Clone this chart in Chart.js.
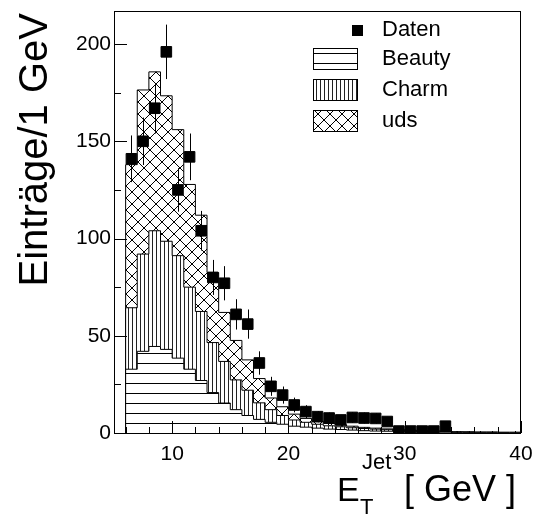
<!DOCTYPE html>
<html>
<head>
<meta charset="utf-8">
<script src="https://cdn.jsdelivr.net/npm/chart.js@4.4.0/dist/chart.umd.min.js"></script>
<style>
html, body { margin: 0; padding: 0; background: #fff; }
</style>
</head>
<body>
<canvas id="chart" width="536" height="516"></canvas>
<script>
// 1 GeV bins, lower edges 6 ... 39
const binLow = [6, 7, 8, 9, 10, 11, 12, 13, 14, 15, 16, 17, 18, 19, 20, 21, 22, 23, 24, 25, 26, 27, 28, 29, 30, 31, 32, 33, 34, 35, 36, 37, 38, 39]
const binCenters = [6.5, 7.5, 8.5, 9.5, 10.5, 11.5, 12.5, 13.5, 14.5, 15.5, 16.5, 17.5, 18.5, 19.5, 20.5, 21.5, 22.5, 23.5, 24.5, 25.5, 26.5, 27.5, 28.5, 29.5, 30.5, 31.5, 32.5, 33.5, 34.5, 35.5, 36.5, 37.5, 38.5, 39.5]

// MC contributions per bin
const beauty = [32.8, 42, 44.5, 43, 38.5, 32.8, 27, 20.8, 15.4, 12, 9, 7, 5.5, 4.5, 3.5, 3, 2.5, 2, 1.8, 1.5, 1.2, 1, 0.9, 0.8, 0.6, 0.5, 0.5, 0.4, 0.3, 0.3, 0.2, 0.2, 0.2, 0.1]
const charm = [31.6, 50, 59.5, 55.6, 52.7, 42.2, 35.5, 25.7, 21.4, 15.3, 13, 8.5, 6.5, 4.5, 3.2, 2.5, 2, 1.7, 1.4, 1.2, 1.1, 1, 0.8, 0.6, 0.6, 0.5, 0.4, 0.4, 0.3, 0.2, 0.2, 0.2, 0.1, 0.2]
const uds = [73.6, 84.4, 81.7, 74.8, 64.8, 52.8, 49.5, 36, 25.2, 20.3, 15.6, 12.5, 6, 4.5, 3, 2, 1.5, 1.2, 1, 0.8, 0.6, 0.5, 0.4, 0.3, 0.3, 0.2, 0.2, 0.2, 0.1, 0.1, 0.1, 0.1, 0.1, 0.1]

// Data and their errors
const daten = [141, 150, 167, 196, 125, 142, 104, 80, 77, 61, 56, 36, 24, 19.5, 14.4, 11, 8.4, 7.7, 6.7, 8, 7.7, 7.5, 5.9, 1, 1, 1, 1, 3.5, 0, 0, 0, 0, 0, 0]
const datenFehler = [12, 12.2, 13, 14, 11.2, 12, 10.2, 9, 8.8, 7.8, 7.5, 6, 4.9, 4.4, 3.8, 3.3, 2.9, 2.8, 2.6, 2.8, 2.8, 2.7, 2.4, 1, 1, 1, 1, 1.9, 1, 1, 1, 1, 0, 1]

// Axis ticks
const xTicks = [10, 20, 30, 40]
const xMinorTicks = [6, 8, 12, 14, 16, 18, 22, 24, 26, 28, 32, 34, 36, 38]
const yTicks = [0, 50, 100, 150, 200]
const yMinorTicks = [25, 75, 125, 175]

const fontFam = '"Liberation Sans", Arial, Helvetica, sans-serif'
const canvas = document.getElementById('chart')
const ctx = canvas.getContext('2d')

// hatch patterns like ROOT fill styles
function makePattern(kind) {
    const tile = document.createElement('canvas')
    const g = tile.getContext('2d')
    if (kind == 'h') {
        tile.width = 10; tile.height = 10
        g.fillStyle = '#fff'; g.fillRect(0, 0, 10, 10)
        g.fillStyle = '#000'; g.fillRect(0, 3, 10, 1)
    } else if (kind == 'v') {
        tile.width = 4; tile.height = 4
        g.fillStyle = '#fff'; g.fillRect(0, 0, 4, 4)
        g.fillStyle = '#222'; g.fillRect(0, 0, 1, 4)
    } else {
        tile.width = 12; tile.height = 12
        g.fillStyle = '#fff'; g.fillRect(0, 0, 12, 12)
        g.strokeStyle = '#000'; g.lineWidth = 1
        g.beginPath()
        g.moveTo(-1, -1); g.lineTo(13, 13)
        g.moveTo(-1, 13); g.lineTo(13, -1)
        g.stroke()
    }
    return ctx.createPattern(tile, 'repeat')
}
const patBeauty = makePattern('h')
const patCharm = makePattern('v')
const patUds = makePattern('x')

// cumulative step outline for a stacked layer
function stepPoints(layers) {
    let pts = [{x: binLow[0], y: 0}]
    binLow.forEach((lo, i) => {
        let sum = 0
        layers.forEach(l => sum += l[i])
        pts.push({x: lo, y: sum})
    })
    pts.push({x: binLow[binLow.length - 1] + 1, y: 0})
    return pts
}

const rootStyle = {
    id: 'rootStyle',
    afterDatasetsDraw(chart) {
        const c = chart.ctx
        const a = chart.chartArea
        const x = chart.scales.x
        const y = chart.scales.y
        c.save()
        c.strokeStyle = '#000'
        c.lineWidth = 1
        // error bars
        c.save()
        c.beginPath()
        c.rect(a.left, a.top, a.right - a.left, a.bottom - a.top)
        c.clip()
        c.beginPath()
        binCenters.forEach((xc, i) => {
            if (!datenFehler[i]) return
            const px = Math.round(x.getPixelForValue(xc)) + 0.5
            c.moveTo(px, y.getPixelForValue(Math.max(0, daten[i] - datenFehler[i])))
            c.lineTo(px, y.getPixelForValue(daten[i] + datenFehler[i]))
        })
        c.stroke()
        c.restore()
        // ticks pointing inwards
        c.beginPath()
        yTicks.forEach(v => {
            const py = Math.round(y.getPixelForValue(v)) + 0.5
            c.moveTo(a.left, py); c.lineTo(a.left + 13, py)
        })
        yMinorTicks.forEach(v => {
            const py = Math.round(y.getPixelForValue(v)) + 0.5
            c.moveTo(a.left, py); c.lineTo(a.left + 7, py)
        })
        xTicks.forEach(v => {
            const px = Math.round(x.getPixelForValue(v)) + 0.5
            c.moveTo(px, a.bottom); c.lineTo(px, a.bottom - 12)
        })
        xMinorTicks.forEach(v => {
            const px = Math.round(x.getPixelForValue(v)) + 0.5
            c.moveTo(px, a.bottom); c.lineTo(px, a.bottom - 6)
        })
        c.stroke()
        // frame
        c.strokeRect(a.left + 0.5, a.top + 0.5, a.right - a.left - 1, a.bottom - a.top)
        c.restore()
    },
    afterDraw(chart) {
        const c = chart.ctx
        c.save()
        c.fillStyle = '#000'
        // axis titles
        c.textBaseline = 'alphabetic'
        c.font = '34px ' + fontFam
        c.fillText('E', 337, 501)
        c.font = '22px ' + fontFam
        c.fillText('T', 360, 514)
        c.fillText('Jet', 362, 469)
        c.font = '36px ' + fontFam
        c.fillText('[ GeV ]', 404, 501)
        c.save()
        c.translate(47, 13)
        c.rotate(-Math.PI / 2)
        c.textAlign = 'right'
        c.font = '40px ' + fontFam
        c.fillText('Einträge/1 GeV', 0, 0)
        c.restore()
        // legend
        c.textBaseline = 'middle'
        c.textAlign = 'left'
        c.font = '22px ' + fontFam
        c.fillRect(352, 25, 11, 11)
        c.fillText('Daten', 382, 30)
        const boxes = [[patBeauty, 'Beauty', 48], [patCharm, 'Charm', 79], [patUds, 'uds', 110]]
        c.strokeStyle = '#000'
        c.lineWidth = 1
        boxes.forEach(b => {
            c.fillStyle = b[0]
            c.fillRect(313, b[2], 44, 22)
            c.strokeRect(313.5, b[2] + 0.5, 44, 21)
            c.fillStyle = '#000'
            c.fillText(b[1], 382, b[2] + 11)
        })
        c.restore()
    }
}

const chart = new Chart(ctx, {
    type: 'line',
    data: {
        datasets: [
            {
                type: 'scatter',
                label: 'Daten',
                data: binCenters.map((xc, i) => ({x: xc, y: daten[i]})),
                pointStyle: 'rect',
                pointRadius: c => daten[c.dataIndex] > 0 ? 7.5 : 0,
                pointBackgroundColor: '#000',
                pointBorderColor: '#000',
                pointBorderWidth: 1,
                showLine: false,
                clip: 0
            },
            {
                label: 'Beauty',
                data: stepPoints([beauty]),
                stepped: true,
                borderColor: '#000',
                borderWidth: 1,
                backgroundColor: patBeauty,
                fill: 'origin',
                pointRadius: 0
            },
            {
                label: 'Charm',
                data: stepPoints([beauty, charm]),
                stepped: true,
                borderColor: '#000',
                borderWidth: 1,
                backgroundColor: patCharm,
                fill: '-1',
                pointRadius: 0
            },
            {
                label: 'uds',
                data: stepPoints([beauty, charm, uds]),
                stepped: true,
                borderColor: '#000',
                borderWidth: 1,
                backgroundColor: patUds,
                fill: '-1',
                pointRadius: 0
            }
        ]
    },
    options: {
        responsive: false,
        animation: false,
        devicePixelRatio: 1,
        layout: {padding: {top: 11, right: 15, left: 0, bottom: 0}},
        plugins: {legend: {display: false}, tooltip: {enabled: false}},
        scales: {
            x: {
                type: 'linear',
                min: 5,
                max: 40,
                grid: {display: false, drawTicks: false},
                border: {display: false},
                afterBuildTicks: s => { s.ticks = xTicks.map(v => ({value: v})) },
                afterFit: s => { s.height = 83; s.paddingLeft = 0; s.paddingRight = 0 },
                ticks: {color: '#000', font: {size: 21, family: fontFam}, padding: 9, maxRotation: 0}
            },
            y: {
                min: 0,
                max: 217,
                grid: {display: false, drawTicks: false},
                border: {display: false},
                afterBuildTicks: s => { s.ticks = yTicks.map(v => ({value: v})) },
                afterFit: s => { s.width = 114; s.paddingTop = 0; s.paddingBottom = 0 },
                ticks: {color: '#000', font: {size: 21, family: fontFam}, padding: 3}
            }
        }
    },
    plugins: [rootStyle]
})
</script>
</body>
</html>
